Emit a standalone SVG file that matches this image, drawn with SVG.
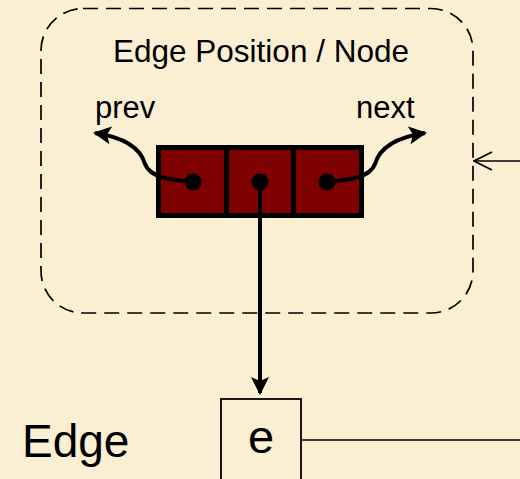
<svg xmlns="http://www.w3.org/2000/svg" width="520" height="479" viewBox="0 0 520 479">
  <style>
    text { font-family: "Liberation Sans", Arial, sans-serif; fill: #000; }
    .cell { fill: #7F0000; stroke: #000; stroke-width: 5; }
    .ptr { fill: none; stroke: #000; stroke-width: 4; }
    .thin { fill: none; stroke: #000; stroke-width: 1.6; }
  </style>
  <defs>
    <marker id="head" viewBox="0 0 18 18" refX="16" refY="9" markerWidth="18" markerHeight="18" markerUnits="userSpaceOnUse" orient="auto">
      <path d="M0,0 L18,9 L0,18 L4,9 Z" fill="#000"/>
    </marker>
    <marker id="open" viewBox="0 0 20 20" refX="19" refY="10" markerWidth="20" markerHeight="20" markerUnits="userSpaceOnUse" orient="auto">
      <path d="M1,1 L19,10 L1,19" fill="none" stroke="#000" stroke-width="1.6"/>
    </marker>
  </defs>
  <rect x="0" y="0" width="520" height="479" fill="#FAEED3"/>

  <g id="position-node">
    <rect x="41" y="8.5" width="432" height="304.5" rx="42" ry="42" fill="none" stroke="#000" stroke-width="1.7" stroke-dasharray="15 8"/>
    <text x="261" y="62" font-size="31.5" text-anchor="middle">Edge Position / Node</text>
    <text x="95" y="118" font-size="31">prev</text>
    <text x="356" y="118" font-size="31">next</text>
    <rect class="cell" x="158.5" y="147.5" width="203" height="68"/>
    <line x1="226.5" y1="147.5" x2="226.5" y2="215.5" stroke="#000" stroke-width="5"/>
    <line x1="293.5" y1="147.5" x2="293.5" y2="215.5" stroke="#000" stroke-width="5"/>
    <circle cx="193" cy="182" r="8.5" fill="#000"/>
    <circle cx="260" cy="182" r="8.5" fill="#000"/>
    <circle cx="327" cy="182" r="8.5" fill="#000"/>
  </g>

  <g id="edge-box">
    <rect x="221" y="399" width="80" height="90" fill="none" stroke="#000" stroke-width="1.8"/>
    <text x="261" y="453" font-size="47" text-anchor="middle">e</text>
  </g>

  <g id="edge-label">
    <text x="22" y="457" font-size="46">Edge</text>
  </g>

  <g id="connectors">
    <path class="ptr" d="M193,182 C172,180 150,178 145,164 C140,146 122,137 95,133" marker-end="url(#head)"/>
    <path class="ptr" d="M327,182 C348,180 370,178 375,164 C380,146 398,137 425,133" marker-end="url(#head)"/>
    <line class="ptr" x1="260" y1="182" x2="260" y2="393" marker-end="url(#head)"/>
    <line class="thin" x1="520" y1="161" x2="474" y2="161" marker-end="url(#open)"/>
    <line class="thin" x1="301" y1="440" x2="520" y2="440"/>
  </g>
</svg>
